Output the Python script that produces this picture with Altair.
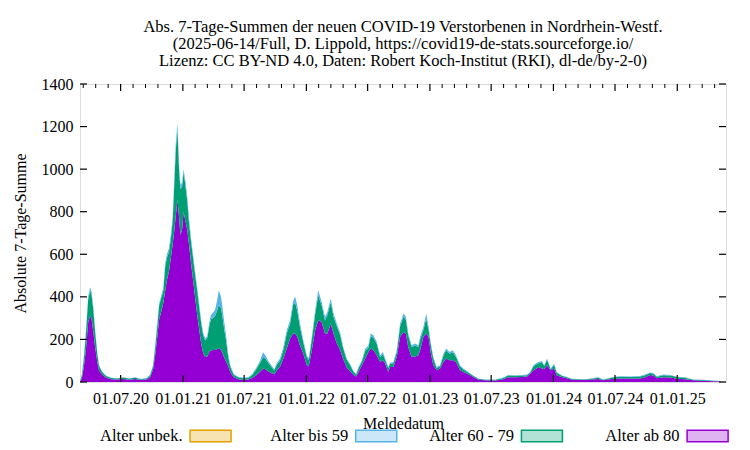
import altair as alt
import pandas as pd

# ---------------- data ----------------
dates = [
    "2020-03-03", "2020-03-09", "2020-03-15", "2020-03-21", "2020-03-27", "2020-04-02", "2020-04-06",
    "2020-04-11", "2020-04-17", "2020-04-23", "2020-04-28", "2020-05-07", "2020-05-19", "2020-06-03",
    "2020-06-21", "2020-07-08", "2020-07-26", "2020-08-13", "2020-08-31", "2020-09-17", "2020-09-26",
    "2020-10-05", "2020-10-11", "2020-10-17", "2020-10-23", "2020-10-29", "2020-11-04", "2020-11-10",
    "2020-11-15", "2020-11-21", "2020-11-27", "2020-12-02", "2020-12-06", "2020-12-11", "2020-12-16",
    "2020-12-21", "2020-12-25", "2020-12-30", "2021-01-03", "2021-01-08", "2021-01-14", "2021-01-19",
    "2021-01-25", "2021-01-31", "2021-02-06", "2021-02-12", "2021-02-18", "2021-02-24", "2021-03-02",
    "2021-03-08", "2021-03-14", "2021-03-20", "2021-03-25", "2021-03-31", "2021-04-06", "2021-04-12",
    "2021-04-17", "2021-04-23", "2021-04-27", "2021-05-03", "2021-05-09", "2021-05-15", "2021-05-21",
    "2021-05-27", "2021-06-01", "2021-06-13", "2021-06-28", "2021-07-13", "2021-07-25", "2021-08-05",
    "2021-08-17", "2021-08-26", "2021-09-02", "2021-09-10", "2021-09-19", "2021-09-28", "2021-10-06",
    "2021-10-15", "2021-10-25", "2021-11-04", "2021-11-14", "2021-11-23", "2021-11-29", "2021-12-05",
    "2021-12-13", "2021-12-23", "2022-01-02", "2022-01-08", "2022-01-17", "2022-01-27", "2022-02-05",
    "2022-02-15", "2022-02-25", "2022-03-04", "2022-03-14", "2022-03-22", "2022-04-01", "2022-04-11",
    "2022-04-19", "2022-04-30", "2022-05-10", "2022-05-19", "2022-05-28", "2022-06-04", "2022-06-14",
    "2022-06-24", "2022-07-03", "2022-07-10", "2022-07-18", "2022-07-28", "2022-08-07", "2022-08-15",
    "2022-08-22", "2022-08-31", "2022-09-05", "2022-09-15", "2022-09-25", "2022-10-05", "2022-10-15",
    "2022-10-22", "2022-10-29", "2022-11-08", "2022-11-18", "2022-11-28", "2022-12-03", "2022-12-13",
    "2022-12-21", "2022-12-28", "2023-01-04", "2023-01-11", "2023-01-21", "2023-01-31", "2023-02-10",
    "2023-02-18", "2023-02-28", "2023-03-10", "2023-03-19", "2023-03-31", "2023-04-10", "2023-04-25",
    "2023-05-09", "2023-05-24", "2023-06-13", "2023-07-13", "2023-08-06", "2023-08-20", "2023-09-10",
    "2023-09-30", "2023-10-15", "2023-10-24", "2023-11-03", "2023-11-11", "2023-11-18", "2023-11-28",
    "2023-12-05", "2023-12-13", "2023-12-24", "2024-01-03", "2024-01-11", "2024-01-26", "2024-02-10",
    "2024-02-25", "2024-04-04", "2024-05-13", "2024-05-27", "2024-06-26", "2024-07-16", "2024-08-15",
    "2024-09-13", "2024-09-28", "2024-10-13", "2024-10-22", "2024-11-02", "2024-11-20", "2024-12-11",
    "2025-01-01", "2025-01-24", "2025-02-17", "2025-03-18", "2025-04-17", "2025-05-10",
]

ab80 = [
    0, 20, 80, 160, 280, 310, 300, 240, 160, 95, 55, 35, 20, 13, 12, 14, 11, 14, 9, 13, 22,
    60, 125, 205, 295, 330, 370, 430, 480, 520, 590, 650, 700, 780, 855, 770, 690, 720, 800, 760, 715, 650,
    560, 480, 400, 320, 250, 180, 135, 118, 120, 140, 148, 150, 150, 155, 158, 152, 140, 115, 95, 75, 48,
    32, 22, 13, 11, 12, 19, 30, 48, 63, 60, 50, 42, 36, 55, 72, 110, 157, 204, 228, 228, 212,
    173, 133, 79, 74, 149, 243, 290, 282, 228, 228, 275, 228, 181, 150, 112, 68, 52, 35, 26, 47, 79,
    110, 140, 157, 149, 126, 94, 102, 86, 47, 70, 71, 118, 212, 235, 228, 165, 118, 120, 126, 149, 212,
    228, 212, 133, 79, 55, 63, 94, 110, 102, 102, 94, 55, 47, 36, 24, 10, 8, 7, 13, 22, 22,
    24, 26, 39, 55, 62, 71, 63, 60, 79, 55, 63, 31, 24, 18, 10, 9, 14, 8, 15, 16, 16,
    17, 22, 33, 30, 18, 22, 21, 15, 13, 8, 6, 4, 3,
]

a60_79 = [
    0, 15, 40, 80, 105, 120, 110, 105, 70, 40, 22, 13, 8, 6, 5, 7, 5, 6, 4, 5, 10,
    15, 35, 55, 65, 65, 58, 115, 105, 92, 90, 110, 205, 310, 330, 215, 215, 200, 185, 170, 135, 100,
    100, 105, 105, 115, 105, 98, 85, 77, 85, 122, 147, 150, 160, 180, 202, 198, 178, 135, 97, 41, 24,
    16, 11, 9, 7, 7, 14, 27, 40, 55, 50, 40, 30, 19, 27, 28, 40, 71, 71, 137, 144, 123,
    87, 52, 39, 29, 51, 77, 118, 79, 62, 87, 101, 80, 81, 70, 50, 36, 28, 15, 9, 18, 16,
    38, 20, 58, 59, 52, 24, 30, 16, 19, 15, 17, 22, 50, 71, 64, 53, 47, 52, 39, 51, 33,
    70, 33, 39, 31, 11, 11, 31, 38, 31, 38, 24, 19, 12, 8, 5, 5, 3, 3, 6, 8, 7,
    6, 6, 5, 19, 20, 17, 30, 15, 25, 5, 18, 13, 5, 4, 4, 3, 6, 3, 7, 9, 8,
    9, 10, 9, 9, 7, 10, 9, 8, 7, 3, 3, 2, 1,
]

bis59 = [
    0, 5, 10, 10, 15, 15, 15, 15, 10, 5, 3, 2, 2, 1, 1, 1, 1, 2, 1, 2, 3,
    5, 10, 10, 10, 10, 12, 15, 15, 18, 20, 20, 25, 30, 30, 25, 20, 20, 15, 20, 20, 20,
    20, 15, 15, 15, 15, 12, 10, 10, 10, 18, 20, 25, 30, 45, 70, 55, 47, 35, 23, 14, 8,
    7, 5, 3, 2, 3, 5, 8, 12, 22, 15, 10, 8, 5, 8, 10, 15, 15, 15, 15, 28, 25,
    15, 11, 8, 7, 12, 17, 23, 15, 16, 14, 16, 14, 13, 10, 8, 6, 6, 5, 3, 6, 7,
    9, 10, 13, 12, 10, 8, 9, 8, 5, 5, 6, 9, 13, 16, 14, 10, 8, 9, 8, 12, 14,
    24, 14, 9, 8, 5, 5, 8, 9, 8, 9, 8, 5, 4, 3, 2, 1, 1, 1, 2, 3, 3,
    3, 3, 3, 5, 6, 6, 6, 4, 6, 3, 5, 3, 2, 2, 1, 1, 2, 1, 2, 2, 2,
    2, 3, 3, 3, 2, 3, 3, 2, 2, 1, 1, 1, 1,
]

unbek = [0] * len(dates)

categories = ["Alter unbek.", "Alter bis 59", "Alter 60 - 79", "Alter ab 80"]
colors = ["#e69f00", "#56b4e9", "#009e73", "#9400d3"]

title_lines = [
    "Abs. 7-Tage-Summen der neuen COVID-19 Verstorbenen in Nordrhein-Westf.",
    "(2025-06-14/Full, D. Lippold, https://covid19-de-stats.sourceforge.io/",
    "Lizenz: CC BY-ND 4.0, Daten: Robert Koch-Institut (RKI), dl-de/by-2-0)",
]

xtick_dates = ["2020-07-01", "2021-01-01", "2021-07-01", "2022-01-01", "2022-07-01",
               "2023-01-01", "2023-07-01", "2024-01-01", "2024-07-01", "2025-01-01"]
yticks = [0, 200, 400, 600, 800, 1000, 1200, 1400]
x_domain = ["2020-03-03", "2025-05-25"]

# ---------------- build tables ----------------
series = {"Alter unbek.": unbek, "Alter bis 59": bis59, "Alter 60 - 79": a60_79, "Alter ab 80": ab80}
stack_order = ["Alter ab 80", "Alter 60 - 79", "Alter bis 59", "Alter unbek."]
rows = []
for k, name in enumerate(stack_order):
    for d, v in zip(dates, series[name]):
        rows.append({"date": d, "group": name, "value": v, "ord": k})
df = pd.DataFrame(rows)

def ms(s):
    return int(pd.Timestamp(s, tz="UTC").value // 10**6)

major_ms = [ms(s) for s in xtick_dates]
# minor tics: 5 subdivisions of each half-year interval (top border only)
minor_ms = []
lo, hi = ms(x_domain[0]), ms(x_domain[1])
step0 = (major_ms[1] - major_ms[0]) / 5
t = major_ms[0] - step0
while t > lo:
    minor_ms.append(t)
    t -= step0
for a, b in zip(major_ms[:-1], major_ms[1:]):
    st = (b - a) / 5
    minor_ms += [a + st * i for i in range(1, 5)]
stl = (major_ms[-1] - major_ms[-2]) / 5
t = major_ms[-1] + stl
while t < hi:
    minor_ms.append(t)
    t += stl

xt_df = pd.DataFrame({"d": major_ms})
xm_df = pd.DataFrame({"d": minor_ms})
yt_df = pd.DataFrame({"value": yticks})
leg_df = pd.DataFrame({"group": categories, "slot": list(range(len(categories)))})

W, H = 646, 298
FONT = "Liberation Serif"
FS = 16
FS_T = 16.5
TICK = 7
MTICK = 4

xscale = alt.Scale(type="utc", domain=[lo, hi])
yscale = alt.Scale(domain=[0, 1400], nice=False, zero=True)
cscale = alt.Scale(domain=categories, range=colors)

y_axis = alt.Axis(values=yticks, format="d", ticks=False, domain=False, grid=False,
                  labelFont=FONT, labelFontSize=FS, labelColor="black",
                  labelPadding=7,
                  title="Absolute 7-Tage-Summe", titleFont=FONT, titleFontSize=FS,
                  titleFontWeight="normal", titleColor="black", titlePadding=13)

area = alt.Chart(df).mark_area(strokeWidth=0, fillOpacity=1).encode(
    x=alt.X("date:T", scale=xscale,
            axis=alt.Axis(values=major_ms,
                          labelExpr="utcFormat(datum.value, '%d.%m.%y')",
                          ticks=False, domain=False, grid=False,
                          labelFont=FONT, labelFontSize=FS, labelColor="black",
                          labelPadding=8, labelOverlap=False, labelFlush=False,
                          title="Meldedatum", titleFont=FONT, titleFontSize=FS,
                          titleFontWeight="normal", titleColor="black", titlePadding=9)),
    y=alt.Y("value:Q", stack="zero", scale=yscale, axis=y_axis),
    color=alt.Color("group:N", scale=cscale, legend=None),
    order=alt.Order("ord:Q", sort="ascending"),
)

tick_y_left = alt.Chart(yt_df).mark_rule(color="black", strokeWidth=1.2).encode(
    y=alt.Y("value:Q", scale=yscale, axis=y_axis), x=alt.value(0), x2=alt.value(TICK))
tick_y_right = alt.Chart(yt_df).mark_rule(color="black", strokeWidth=1.2).encode(
    y=alt.Y("value:Q", scale=yscale, axis=y_axis), x=alt.value(W - TICK), x2=alt.value(W))
tick_x_bottom = alt.Chart(xt_df).mark_rule(color="black", strokeWidth=1.2).encode(
    x=alt.X("d:T", scale=xscale, axis=None), y=alt.value(H), y2=alt.value(H - TICK))
tick_x_top = alt.Chart(xt_df).mark_rule(color="black", strokeWidth=1.2).encode(
    x=alt.X("d:T", scale=xscale, axis=None), y=alt.value(0), y2=alt.value(TICK))
tick_x_top_minor = alt.Chart(xm_df).mark_rule(color="black", strokeWidth=1).encode(
    x=alt.X("d:T", scale=xscale, axis=None), y=alt.value(0), y2=alt.value(MTICK))

# legend (gnuplot style: text, then sample box)
slot_scale = alt.Scale(domain=[-0.788, 3.111], nice=False, zero=False)
leg_box = alt.Chart(leg_df).mark_point(
    shape="M-1,-0.28L1,-0.28L1,0.28L-1,0.28Z", size=41 * 41, filled=True,
    fillOpacity=0.3, strokeWidth=1.5, opacity=1).encode(
    x=alt.X("slot:Q", scale=slot_scale, axis=None),
    y=alt.value(H + 54),
    color=alt.Color("group:N", scale=cscale, legend=None),
    stroke=alt.Stroke("group:N", scale=cscale, legend=None),
)
leg_text = alt.Chart(leg_df).mark_text(
    align="right", baseline="middle", dx=-28, font=FONT, fontSize=FS_T, color="black").encode(
    x=alt.X("slot:Q", scale=slot_scale, axis=None),
    y=alt.value(H + 54),
    text="group:N",
)

chart = alt.layer(area, tick_y_left, tick_y_right, tick_x_bottom, tick_x_top, tick_x_top_minor,
                  leg_box, leg_text).resolve_scale(
    x="independent"
).properties(
    width=W, height=H,
    padding={"left": 72, "top": 76, "right": 16, "bottom": 66},
    autosize=alt.AutoSizeParams(type="none"),
    title=alt.TitleParams(text=title_lines, font=FONT, fontSize=FS_T, fontWeight="normal",
                          color="black", anchor="middle", lineHeight=17, offset=7),
).configure_view(stroke="black", strokeWidth=1.5).configure(background="white")

chart.save("out.html", embed_options={"renderer": "svg", "actions": False})
